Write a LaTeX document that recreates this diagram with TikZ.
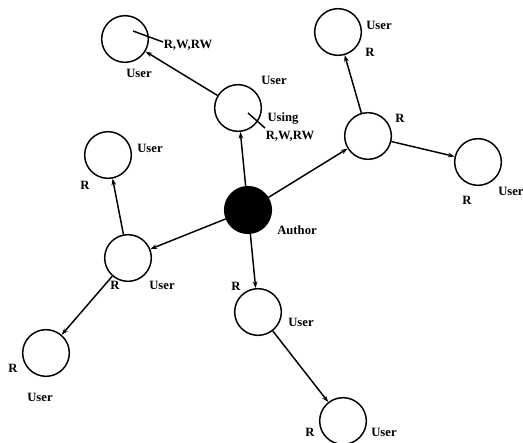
\documentclass[tikz,border=0pt]{standalone}
\usepackage{fontspec}
\setmainfont{Liberation Serif}
\usetikzlibrary{arrows.meta}
\begin{document}
\begin{tikzpicture}[x=0.75pt,y=-0.75pt,
  usr/.style={circle,draw,line width=1.1pt,minimum size=35pt,inner sep=0pt},
  auth/.style={circle,fill=black,draw,line width=1.1pt,minimum size=35pt,inner sep=0pt},
  lbl/.style={font=\bfseries\fontsize{9.5}{10}\selectfont,inner sep=0pt},
  arr/.style={line width=1.1pt,-{Stealth[length=5pt,width=3.5pt]}},
  ptr/.style={line width=1.1pt}]
\useasboundingbox (0,0) rectangle (523,442);
\clip (0,0) rectangle (523,442);
% nodes
\node[usr] (tl) at (125,39) {};
\node[usr] (mid) at (238,108) {};
\node[auth] (author) at (248,210) {};
\node[usr] (rr) at (368,136) {};
\node[usr] (tr) at (338,32) {};
\node[usr] (ru) at (478,162) {};
\node[usr] (lt) at (108,155) {};
\node[usr] (lm) at (128,258) {};
\node[usr] (bl) at (46,353) {};
\node[usr] (mb) at (258,312) {};
\node[usr] (br) at (343,421) {};
% labels
\node[lbl] (tlp) at (188,45) {R,W,RW};
\node[lbl] (tlu) at (139,73) {User};
\node[lbl] (midu) at (274,80) {User};
\node[lbl] (midg) at (283,119) {Using};
\node[lbl] (midp) at (290,136) {R,W,RW};
\node[lbl] (autl) at (297,230) {Author};
\node[lbl] (rrr) at (400,118) {R};
\node[lbl] (tru) at (379,25) {User};
\node[lbl] (trr) at (370,52) {R};
\node[lbl,anchor=west] (ruu) at (498,191) {User};
\node[lbl] (rur) at (467,200) {R};
\node[lbl] (ltu) at (150,148) {User};
\node[lbl] (ltr) at (85,185) {R};
\node[lbl] (lmr) at (115,285) {R};
\node[lbl] (lmu) at (162,285) {User};
\node[lbl] (blr) at (13,368) {R};
\node[lbl] (blu) at (40,397) {User};
\node[lbl] (mbr) at (236,286) {R};
\node[lbl] (mbu) at (301,322) {User};
\node[lbl] (brr) at (310,432) {R};
\node[lbl] (bru) at (384,432) {User};
% pointer lines
\coordinate (tlin) at (133,31);
\coordinate (tlout) at (163,42);
\coordinate (midin) at (248,113);
\coordinate (midout) at (265,128);
\draw[ptr] (tlin) -- (tlout);
\draw[ptr] (midin) -- (midout);
% arrows
\draw[arr] (mid) -- (tl);
\draw[arr] (author) -- (mid);
\draw[arr] (author) -- (rr);
\draw[arr] (rr) -- (tr);
\draw[arr] (rr) -- (ru);
\draw[arr] (author) -- (lm);
\draw[arr] (lm) -- (lt);
\draw[arr] (lm) -- (bl);
\draw[arr] (author) -- (mb);
\draw[arr] (mb) -- (br);
\end{tikzpicture}
\end{document}
